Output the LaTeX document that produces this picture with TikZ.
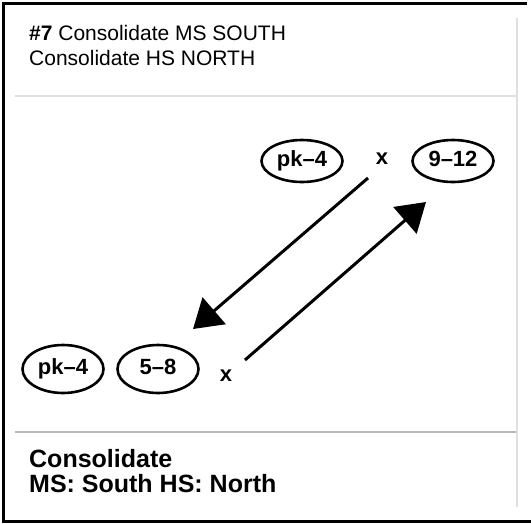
\documentclass[tikz,border=0pt]{standalone}
\usepackage{fontspec}
\setmainfont{Liberation Sans}
\usetikzlibrary{shapes.geometric,arrows.meta}

\tikzset{
  grade/.style={draw, ellipse, line width=2.6pt, inner sep=0pt,
    minimum width=81pt, minimum height=42pt,
    font=\fontsize{22}{22}\selectfont\bfseries,
    text height=15pt, text depth=4pt},
  gradelow/.style={grade, minimum height=48pt},
  cross/.style={font=\fontsize{22}{22}\selectfont\bfseries, inner sep=0pt},
  move/.style={line width=3pt, -{Triangle[length=28pt, width=35pt]}},
  header/.style={font=\fontsize{21}{21}\selectfont, inner sep=0pt, anchor=base west},
  footer/.style={font=\fontsize{25}{25}\selectfont\bfseries, inner sep=0pt, anchor=base west},
  frame/.style={line width=3pt, black},
  rule/.style={line width=2pt, gray!25},
}

\begin{document}
\begin{tikzpicture}[x=1pt, y=-1pt]
  \useasboundingbox (0,0) rectangle (531,523);

  % outer frame (left, top, bottom)
  \draw[frame] (527,3.5) -- (3,3.5) -- (3,521) -- (531,521);

  % panel rules
  \draw[rule] (517,18) -- (517,507);
  \draw[rule] (15,96) -- (516,96);
  \draw[line width=1.5pt, gray!55] (15,432) -- (516,432);

  % title
  \node[header] (t1) at (29,40) {\textbf{\#7} Consolidate MS SOUTH};
  \node[header] (t2) at (29,65) {Consolidate HS NORTH};

  % upper row of grade bands
  \node[grade] (pkA) at (302,161) {pk–4};
  \node[cross, anchor=base] (xA) at (382,164) {x};
  \node[grade] (hs) at (453,161) {9–12};

  % lower row of grade bands
  \node[gradelow] (pkB) at (63,369) {pk–4};
  \node[gradelow] (ms) at (158,369) {5–8};
  \node[cross, anchor=base] (xB) at (226,381) {x};

  % moves between buildings
  \coordinate (m1s) at (368,178);
  \coordinate (m1e) at (193,329);
  \coordinate (m2s) at (245,360);
  \coordinate (m2e) at (426,202);
  \draw[move] (m1s) -- (m1e);
  \draw[move] (m2s) -- (m2e);

  % result
  \node[footer] (f1) at (29,467) {Consolidate};
  \node[footer] (f2) at (29,492) {MS: South HS: North};
\end{tikzpicture}
\end{document}
